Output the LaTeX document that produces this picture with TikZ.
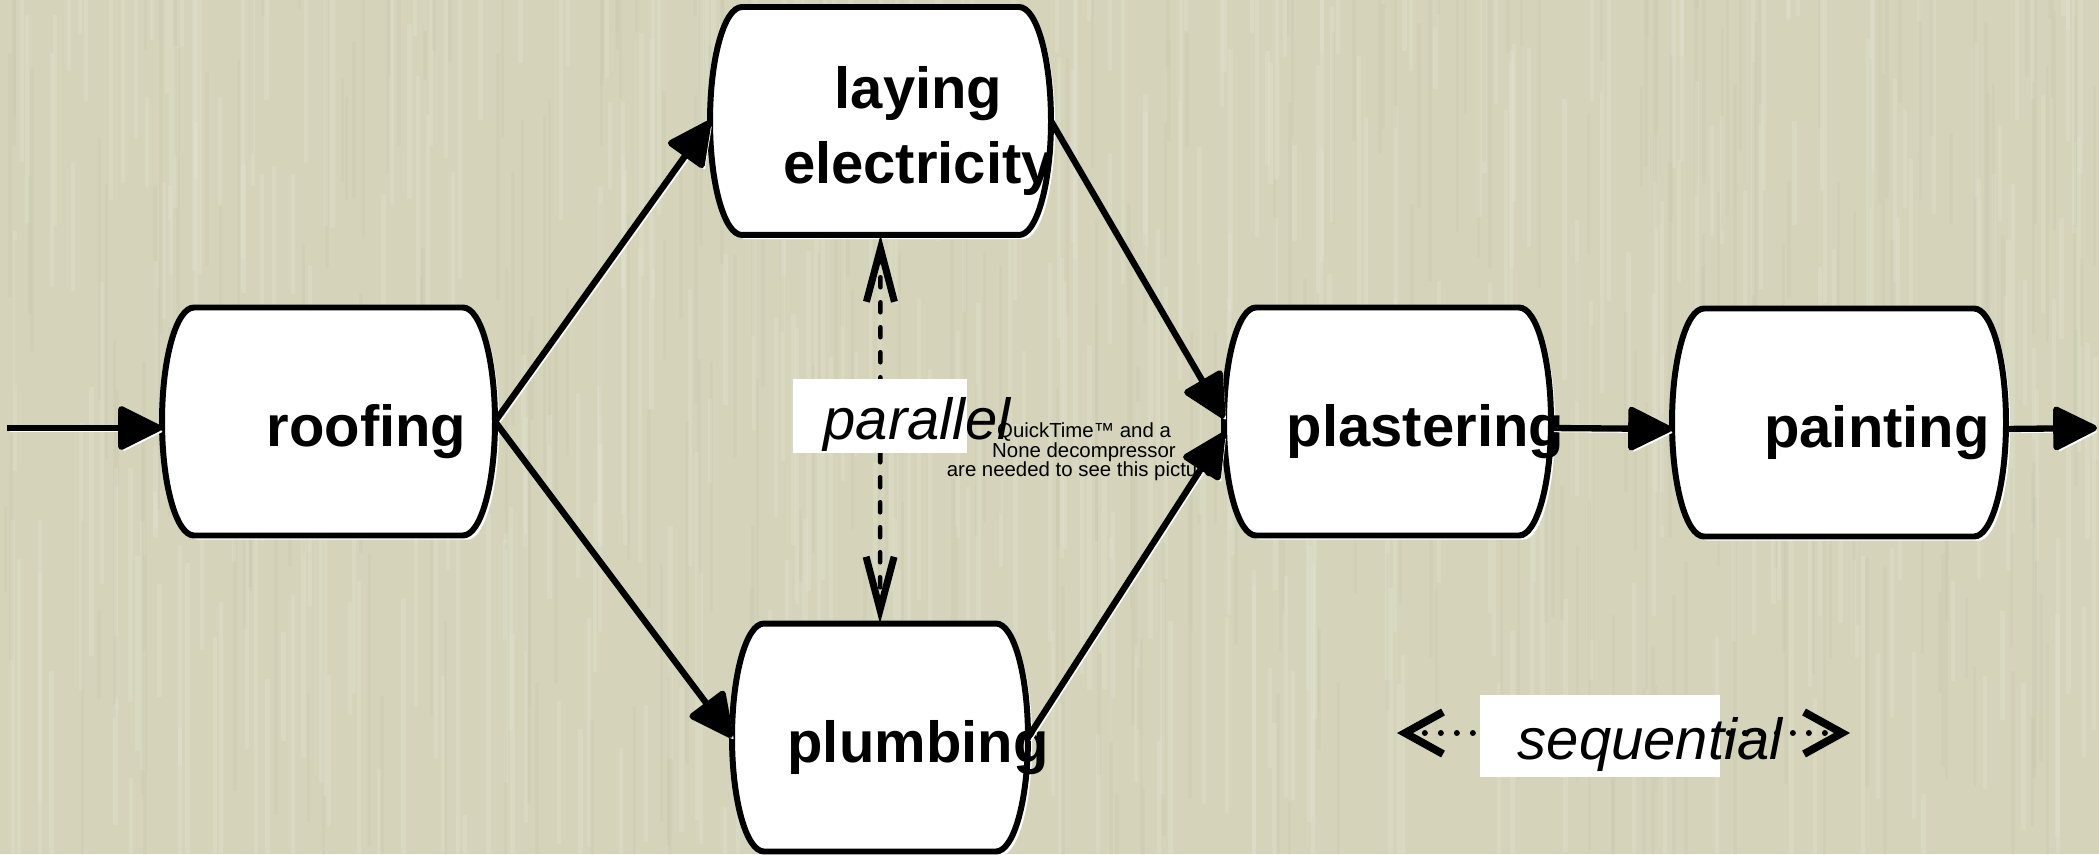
\documentclass[tikz,border=0pt]{standalone}
\usepackage{fontspec}
\setmainfont{Liberation Sans}
\usetikzlibrary{arrows.meta,shadows}

\definecolor{paper}{RGB}{213,212,186}

% Box with flat top and bottom and half-elliptic sides
\newdimen\tbl \newdimen\tbr \newdimen\tbt \newdimen\tbb \newdimen\tbh
\def\taskcap{0.32cm}
\makeatletter
\pgfdeclareshape{taskbox}{
  \inheritsavedanchors[from=rectangle]
  \inheritanchorborder[from=rectangle]
  \inheritanchor[from=rectangle]{center}
  \inheritanchor[from=rectangle]{north}
  \inheritanchor[from=rectangle]{south}
  \inheritanchor[from=rectangle]{east}
  \inheritanchor[from=rectangle]{west}
  \inheritanchor[from=rectangle]{north east}
  \inheritanchor[from=rectangle]{north west}
  \inheritanchor[from=rectangle]{south east}
  \inheritanchor[from=rectangle]{south west}
  \backgroundpath{%
    \southwest \tbl=\pgf@x \tbb=\pgf@y
    \northeast \tbr=\pgf@x \tbt=\pgf@y
    \tbh=\tbt \advance\tbh by -\tbb \tbh=0.5\tbh
    \pgfpathmoveto{\pgfqpoint{\dimexpr\tbl+\taskcap\relax}{\tbt}}
    \pgfpathlineto{\pgfqpoint{\dimexpr\tbr-\taskcap\relax}{\tbt}}
    \pgfpatharc{90}{-90}{\taskcap and \tbh}
    \pgfpathlineto{\pgfqpoint{\dimexpr\tbl+\taskcap\relax}{\tbb}}
    \pgfpatharc{270}{90}{\taskcap and \tbh}
    \pgfpathclose
  }
}
\makeatother

\tikzset{
  caption/.style={font=\bfseries\fontsize{16.5}{21.6}\selectfont, align=center, xshift=3.8mm, yshift=-1mm},
  task/.style={draw, line width=1.7pt, fill=white, shape=taskbox, inner sep=0pt,
    minimum height=2.22cm, minimum width=3.27cm,
    drop shadow={shadow xshift=1.2pt, shadow yshift=-1.2pt, fill=white, opacity=1},
    label={[caption]center:{#1}}},
  tag/.style={fill=white, inner sep=0pt},
  tagtext/.style={font=\itshape\fontsize{16.5}{19}\selectfont, xshift=#1, yshift=-0.9mm},
  tagtext/.default=3.7mm,
  flow/.style={line width=1.8pt, -{Triangle[length=4.8mm, width=4.6mm, round]},
    preaction={draw=white, transform canvas={shift={(0.8pt,-1pt)}}}},
  both/.style={line width=1.3pt, line cap=round, dash pattern=on 1mm off 1.5mm,
    {Straight Barb[length=5.3mm, width=2.8mm, line width=2pt]}-{Straight Barb[length=5.3mm, width=2.8mm, line width=2pt]}},
  dots/.style={line width=1.7pt, line cap=round, dash pattern=on 0pt off 1.6mm,
    {Straight Barb[length=3.8mm, width=4.2mm, line width=2.2pt]}-{Straight Barb[length=3.8mm, width=4.2mm, line width=2.2pt]}},
}

\begin{document}
\begin{tikzpicture}

  \useasboundingbox (0,0) rectangle (20.99,8.54);

  % Paper background
  \fill[paper] (0,0) rectangle (20.99,8.54);
  \pgfmathsetseed{42}
  \foreach \k in {1,...,400}{
    \pgfmathsetmacro{\xx}{rnd*20.99}
    \pgfmathsetmacro{\yy}{rnd*9.5-1}
    \pgfmathsetmacro{\ll}{0.8+rnd*3}
    \draw[white, opacity=0.1, line width=1.2pt] (\xx,\yy) -- ++(0,\ll);
  }
  \foreach \k in {1,...,300}{
    \pgfmathsetmacro{\xx}{rnd*20.99}
    \pgfmathsetmacro{\yy}{rnd*9.5-1}
    \pgfmathsetmacro{\ll}{0.8+rnd*3}
    \draw[paper!80!black, opacity=0.08, line width=1pt] (\xx,\yy) -- ++(0,\ll);
  }

  % Tasks
  \node[task=roofing] (roof) at (3.285,4.325) {};
  \node[task={laying\\electricity}, minimum width=3.35cm] (elec) at (8.805,7.33) {};
  \node[task=plumbing, minimum width=2.90cm] (plumb) at (8.80,1.165) {};
  \node[task=plastering, minimum width=3.21cm] (plast) at (13.875,4.325) {};
  \node[task=painting, minimum width=3.28cm] (paint) at (18.39,4.315) {};

  \coordinate (start) at (0.07,4.26);
  \coordinate (exit) at (20.97,4.26);

  % Main flow
  \draw[flow] (start) -- (start -| roof.west);
  \draw[flow] (roof.east) -- (elec.west);
  \draw[flow] (roof.east) -- (plumb.west);
  \draw[flow] (elec.east) -- ([yshift=0.35mm]plast.west);
  \draw[flow] (plumb.east) -- ([yshift=-1.15mm]plast.west);
  \draw[flow] ([yshift=-0.65mm]plast.east) -- ([yshift=-0.65mm]paint.west);
  \draw[flow] ([yshift=-0.65mm]paint.east) -- (exit);

  % Parallel / sequential marks
  \draw[both] (elec.south) -- (plumb.north);
  \node[tag, minimum width=1.74cm, minimum height=0.74cm, label={[tagtext]center:parallel}] (par) at (8.80,4.38) {};

  \coordinate (seql) at (13.97,1.21);
  \coordinate (seqr) at (18.50,1.21);
  \draw[dots] (seql) -- (seqr);
  \node[tag, minimum width=2.40cm, minimum height=0.82cm, label={[tagtext=5mm]center:sequential}] (seq) at (16.00,1.18) {};

  % Missing picture note
  \node[font=\fontsize{5.8}{5.55}\selectfont, align=center] (qt) at (10.84,4.02)
    {QuickTime™ and a\\None decompressor\\are needed to see this picture.};

\end{tikzpicture}
\end{document}
